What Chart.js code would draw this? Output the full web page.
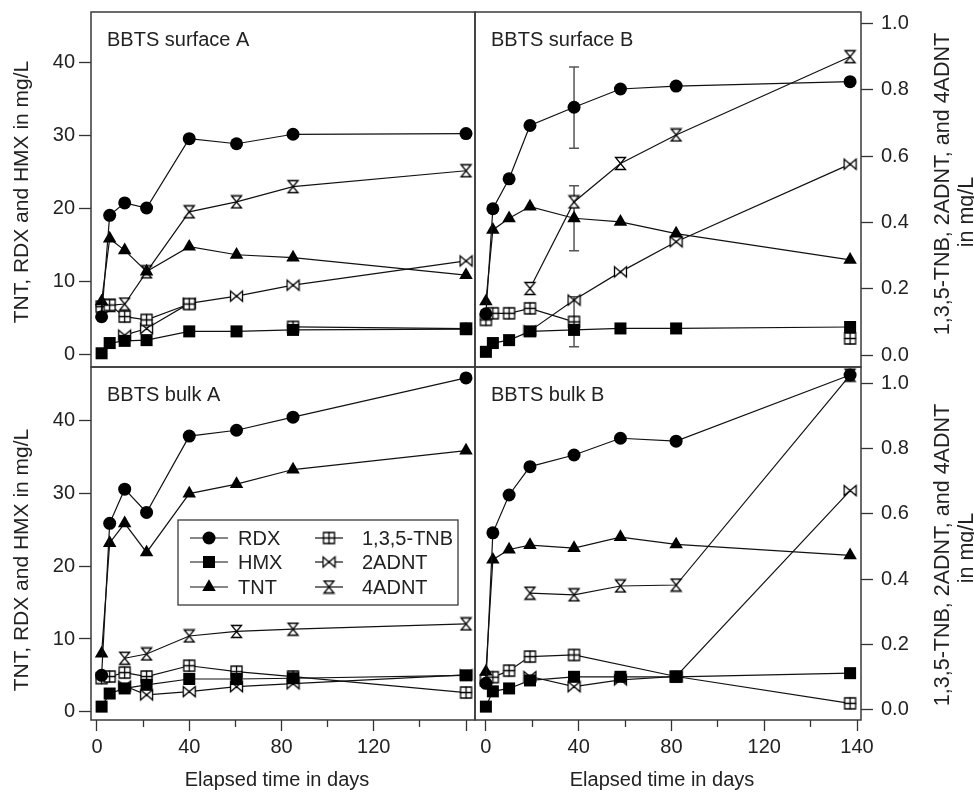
<!DOCTYPE html>
<html>
<head>
<meta charset="utf-8">
<script src="https://cdn.jsdelivr.net/npm/chart.js@4.4.1/dist/chart.umd.min.js"></script>
<style>
  body { margin: 0; background: #fff; }
  #wrap { position: relative; width: 974px; height: 792px; }
  #wrap canvas { position: absolute; left: 0; top: 0; }
</style>
</head>
<body>
<div id="wrap">
  <canvas id="c1" width="974" height="792"></canvas>
  <canvas id="c2" width="974" height="792"></canvas>
  <canvas id="c3" width="974" height="792"></canvas>
  <canvas id="c4" width="974" height="792"></canvas>
</div>
<script>
const FONT = "'Liberation Sans', Arial, Helvetica, sans-serif";

// sampling points on the time axis (A runs / B runs)
const daysA = [2, 5.5, 12, 21.5, 40, 60.5, 85, 160];
const daysB = [0, 3, 10, 19, 38, 58, 82, 157];

const xTicks = [0, 20, 40, 60, 80, 100, 120, 140, 160];
const xLabelsA = ['0', '', '40', '', '80', '', '120', '', ''];
const xLabelsB = ['0', '', '40', '', '80', '', '120', '', '140'];
const yLeftTicks = [0, 10, 20, 30, 40];
const yRightTicks = [0, 0.2, 0.4, 0.6, 0.8, 1.0];

const seriesNames = ['RDX', 'HMX', 'TNT', '1,3,5-TNB', '2ADNT', '4ADNT'];

// BBTS surface A
const rdxSurfA  = [5.1, 19.0, 20.7, 20.0, 29.5, 28.8, 30.1, 30.2];
const hmxSurfA  = [0.1, 1.5, 1.8, 1.9, 3.1, 3.1, 3.3, 3.4];
const tntSurfA  = [7.2, 15.8, 14.2, 11.3, 14.7, 13.6, 13.2, 10.8];
const tnbSurfA  = [0.146, 0.151, 0.116, 0.106, 0.154, null, 0.085, 0.080];
const adnt2SurfA = [null, null, 0.060, 0.080, 0.156, 0.178, 0.211, 0.284];
const adnt4SurfA = [null, 0.15, 0.154, 0.251, 0.432, 0.462, 0.508, 0.556];

// BBTS surface B
const rdxSurfB  = [5.5, 19.9, 24.0, 31.3, 33.8, 36.3, 36.7, 37.3];
const hmxSurfB  = [0.3, 1.5, 1.9, 3.1, 3.3, 3.5, 3.5, 3.7];
const tntSurfB  = [7.2, 17.0, 18.6, 20.2, 18.6, 18.1, 16.5, 12.9];
const tnbSurfB  = [0.106, 0.126, 0.126, 0.141, 0.100, null, null, 0.050];
const adnt2SurfB = [null, null, null, 0.073, 0.166, 0.251, 0.342, 0.576];
const adnt4SurfB = [null, null, null, 0.201, 0.462, 0.578, 0.664, 0.900];

// error bars in surface B (day 38): RDX, TNT, 1,3,5-TNB
const errDay  = [38, 38, 38];
const errLow  = [28.2, 14.15, 0.025];
const errHigh = [39.3, 23.05, 0.176];
const errAxis = ['yL', 'yL', 'yR'];

// BBTS bulk A
const rdxBulkA  = [5.0, 25.9, 30.6, 27.4, 37.9, 38.7, 40.5, 45.9];
const hmxBulkA  = [0.7, 2.5, 3.2, 3.7, 4.5, 4.5, 4.6, 5.0];
const tntBulkA  = [8.0, 23.2, 25.9, 21.9, 30.0, 31.3, 33.3, 35.9];
const tnbBulkA  = [0.097, 0.102, 0.114, 0.102, 0.135, 0.117, 0.102, 0.053];
const adnt2BulkA = [null, null, 0.073, 0.046, 0.056, 0.071, 0.080, 0.107];
const adnt4BulkA = [null, null, 0.158, 0.171, 0.226, 0.240, 0.247, 0.263];

// BBTS bulk B
const rdxBulkB  = [3.9, 24.6, 29.8, 33.7, 35.3, 37.6, 37.2, 46.3];
const hmxBulkB  = [0.7, 2.8, 3.2, 4.3, 4.8, 4.8, 4.8, 5.3];
const tntBulkB  = [5.5, 20.9, 22.3, 22.9, 22.5, 24.0, 23.0, 21.5];
const tnbBulkB  = [0.09, 0.10, 0.120, 0.163, 0.168, null, 0.102, 0.020];
const adnt2BulkB = [null, null, null, 0.102, 0.071, 0.092, 0.102, 0.671];
const adnt4BulkB = [null, null, null, 0.357, 0.352, 0.379, 0.382, 1.024];


function marker(kind) {
  const s = 15;
  const c = document.createElement('canvas');
  c.width = s; c.height = s;
  const g = c.getContext('2d');
  g.lineWidth = 1.3;
  g.strokeStyle = '#000';
  g.fillStyle = '#fff';
  const a = 1.5, b = s - 1.5, m = s / 2;
  g.beginPath();
  if (kind === 'tnb') {
    g.rect(a + 0.5, a + 0.5, b - a - 1, b - a - 1);
    g.fill(); g.stroke();
    g.beginPath();
    g.moveTo(m, a); g.lineTo(m, b);
    g.moveTo(a, m); g.lineTo(b, m);
    g.stroke();
  } else if (kind === 'bowtie') {
    g.moveTo(a, a + 1); g.lineTo(m, m); g.lineTo(a, b - 1); g.closePath();
    g.moveTo(b, a + 1); g.lineTo(m, m); g.lineTo(b, b - 1); g.closePath();
    g.fill(); g.stroke();
  } else {
    g.moveTo(a + 1, a); g.lineTo(b - 1, a); g.lineTo(m, m); g.closePath();
    g.moveTo(a + 1, b); g.lineTo(b - 1, b); g.lineTo(m, m); g.closePath();
    g.fill(); g.stroke();
  }
  return c;
}

const styles = [
  {pointStyle: 'circle', radius: 6.5, axis: 'yL'},
  {pointStyle: 'rect', radius: 8.5, axis: 'yL'},
  {pointStyle: 'triangle', radius: 7.8, axis: 'yL'},
  {pointStyle: marker('tnb'), radius: 7, axis: 'yR'},
  {pointStyle: marker('bowtie'), radius: 7, axis: 'yR'},
  {pointStyle: marker('hourglass'), radius: 7, axis: 'yR'}
];

function drawMark(ctx, st, x, y) {
  const ps = st.pointStyle;
  if (typeof ps !== 'string') {
    ctx.drawImage(ps, x - ps.width / 2, y - ps.height / 2);
    return;
  }
  const r = st.radius;
  ctx.fillStyle = '#000';
  ctx.beginPath();
  if (ps === 'circle') {
    ctx.arc(x, y, r, 0, Math.PI * 2);
  } else if (ps === 'rect') {
    const h = r * Math.SQRT1_2;
    ctx.rect(x - h, y - h, 2 * h, 2 * h);
  } else {
    ctx.moveTo(x, y - r);
    ctx.lineTo(x + r * 0.866, y + r * 0.5);
    ctx.lineTo(x - r * 0.866, y + r * 0.5);
    ctx.closePath();
  }
  ctx.fill();
}

const yRanges = [
  {L: [-1.78, 46.85], R: [-0.036, 1.035]},
  {L: [-1.14, 47.4], R: [-0.031, 1.049]}
];
const xRanges = [[-2.6, 163.9], [-4.7, 161.7]];

const panels = [
  {id: 'c1', row: 0, col: 0, title: 'BBTS surface A', days: daysA, xLabels: xLabelsA,
   rect: {l: 91, t: 12, r: 475, b: 367},
   series: [rdxSurfA, hmxSurfA, tntSurfA, tnbSurfA, adnt2SurfA, adnt4SurfA]},
  {id: 'c2', row: 0, col: 1, title: 'BBTS surface B', days: daysB, xLabels: xLabelsB,
   rect: {l: 475, t: 12, r: 861, b: 367}, errors: true,
   series: [rdxSurfB, hmxSurfB, tntSurfB, tnbSurfB, adnt2SurfB, adnt4SurfB]},
  {id: 'c3', row: 1, col: 0, title: 'BBTS bulk A', days: daysA, xLabels: xLabelsA,
   rect: {l: 91, t: 367, r: 475, b: 720}, legend: true,
   series: [rdxBulkA, hmxBulkA, tntBulkA, tnbBulkA, adnt2BulkA, adnt4BulkA]},
  {id: 'c4', row: 1, col: 1, title: 'BBTS bulk B', days: daysB, xLabels: xLabelsB,
   rect: {l: 475, t: 367, r: 861, b: 720},
   series: [rdxBulkB, hmxBulkB, tntBulkB, tnbBulkB, adnt2BulkB, adnt4BulkB]}
];

function text(ctx, t, x, y, size, align, rot) {
  ctx.save();
  ctx.font = size + 'px ' + FONT;
  ctx.fillStyle = '#222';
  ctx.textAlign = align;
  ctx.textBaseline = 'middle';
  ctx.translate(x, y);
  if (rot) ctx.rotate(rot * Math.PI / 180);
  ctx.fillText(t, 0, 0);
  ctx.restore();
}

function decoPlugin(p) {
  return {
    id: 'deco',
    beforeDatasetsDraw(chart) {
      const ctx = chart.ctx, a = chart.chartArea;
      ctx.save();
      ctx.strokeStyle = '#3a3a3a';
      ctx.lineWidth = 1.5;
      ctx.strokeRect(a.left, a.top, a.right - a.left, a.bottom - a.top);
      if (p.errors) {
        ctx.strokeStyle = '#555';
        ctx.lineWidth = 1.5;
        const xs = chart.scales.x;
        errDay.forEach((d, i) => {
          const ys = chart.scales[errAxis[i]];
          const px = xs.getPixelForValue(d);
          const y1 = ys.getPixelForValue(errLow[i]);
          const y2 = ys.getPixelForValue(errHigh[i]);
          ctx.beginPath();
          ctx.moveTo(px, y1); ctx.lineTo(px, y2);
          ctx.moveTo(px - 5, y1); ctx.lineTo(px + 5, y1);
          ctx.moveTo(px - 5, y2); ctx.lineTo(px + 5, y2);
          ctx.stroke();
        });
      }
      ctx.restore();
    },
    afterDraw(chart) {
      const ctx = chart.ctx, a = chart.chartArea;
      text(ctx, p.title, a.left + 16, a.top + 28, 20, 'left');
      if (p.col === 0) {
        text(ctx, 'TNT, RDX and HMX in mg/L', 22, p.row === 0 ? 192 : 560, 21, 'center', -90);
      } else {
        text(ctx, '1,3,5-TNB, 2ADNT, and 4ADNT', 943, p.row === 0 ? 184 : 555, 21.5, 'center', -90);
        text(ctx, 'in mg/L', 967, p.row === 0 ? 212 : 548, 21.5, 'center', -90);
      }
      if (p.row === 1) {
        text(ctx, 'Elapsed time in days', (a.left + a.right) / 2 - 6, 780, 20, 'center');
      }
      if (p.legend) {
        ctx.save();
        ctx.fillStyle = '#fff';
        ctx.fillRect(178, 520, 280, 85);
        ctx.strokeStyle = '#3a3a3a';
        ctx.lineWidth = 1.3;
        ctx.strokeRect(178, 520, 280, 85);
        const rows = [538, 562, 587];
        seriesNames.forEach((name, i) => {
          const c = Math.floor(i / 3);
          const y = rows[i % 3];
          const x0 = c === 0 ? 190 : 315, x1 = c === 0 ? 228 : 343;
          ctx.strokeStyle = '#111';
          ctx.lineWidth = 1.2;
          ctx.beginPath();
          ctx.moveTo(x0, y); ctx.lineTo(x1, y);
          ctx.stroke();
          drawMark(ctx, styles[i], (x0 + x1) / 2, y);
          text(ctx, name, c === 0 ? 238 : 362, y + 1, 20, 'left');
        });
        ctx.restore();
      }
    }
  };
}

function noPad(s) {
  s.paddingTop = 0; s.paddingBottom = 0;
  s.paddingLeft = 0; s.paddingRight = 0;
}

function makeChart(p) {
  const W = 974, H = 792, r = p.rect;
  const showLeft = p.col === 0, showRight = p.col === 1, showX = p.row === 1;
  const yr = yRanges[p.row], xr = xRanges[p.col];
  const tickFont = {family: FONT, size: 20};

  const datasets = seriesNames.map((name, i) => {
    const st = styles[i];
    return {
      label: name,
      data: p.days.map((d, k) => ({x: d, y: p.series[i][k]})),
      yAxisID: st.axis,
      borderColor: '#111',
      borderWidth: 1.2,
      pointStyle: st.pointStyle,
      pointRadius: st.radius,
      pointHoverRadius: st.radius,
      pointBackgroundColor: '#000',
      pointBorderColor: '#000',
      pointBorderWidth: 0,
      spanGaps: p.row === 1,
      tension: 0,
      fill: false
    };
  });

  const yAxis = (pos, range, ticks, show, width, fmt) => ({
    type: 'linear',
    position: pos,
    display: show,
    min: range[0],
    max: range[1],
    afterBuildTicks: s => { s.ticks = ticks.map(v => ({value: v})); },
    afterFit: s => { s.width = show ? width : 0; noPad(s); },
    border: {display: false},
    grid: {drawOnChartArea: false, drawTicks: true, tickLength: 12, tickColor: '#333', tickWidth: 1.3},
    ticks: {color: '#222', font: tickFont, padding: pos === 'left' ? 4 : 8, callback: fmt}
  });

  new Chart(document.getElementById(p.id), {
    type: 'line',
    data: {datasets: datasets},
    options: {
      responsive: false,
      animation: false,
      devicePixelRatio: 1,
      events: [],
      layout: {
        padding: {
          left: showLeft ? 0 : r.l,
          right: showRight ? 0 : W - r.r,
          top: r.t,
          bottom: showX ? 0 : H - r.b
        }
      },
      plugins: {legend: {display: false}, tooltip: {enabled: false}},
      scales: {
        x: {
          type: 'linear',
          position: 'bottom',
          display: showX,
          min: xr[0],
          max: xr[1],
          afterBuildTicks: s => { s.ticks = xTicks.map(v => ({value: v})); },
          afterFit: s => { s.height = showX ? H - r.b : 0; noPad(s); },
          border: {display: false},
          grid: {
            drawOnChartArea: false, drawTicks: true, tickLength: 11, tickColor: '#333', tickWidth: 1.3,
            tickBorderDash: c => (c.tick && c.tick.value % 40 !== 0) ? [7, 30] : []
          },
          ticks: {autoSkip: false, maxRotation: 0, padding: 4, color: '#222', font: tickFont,
                  callback: (v, i) => p.xLabels[i]}
        },
        yL: yAxis('left', yr.L, yLeftTicks, showLeft, r.l, v => String(v)),
        yR: yAxis('right', yr.R, yRightTicks, showRight, W - r.r, v => v.toFixed(1))
      }
    },
    plugins: [decoPlugin(p)]
  });
}

panels.forEach(makeChart);
</script>
</body>
</html>
